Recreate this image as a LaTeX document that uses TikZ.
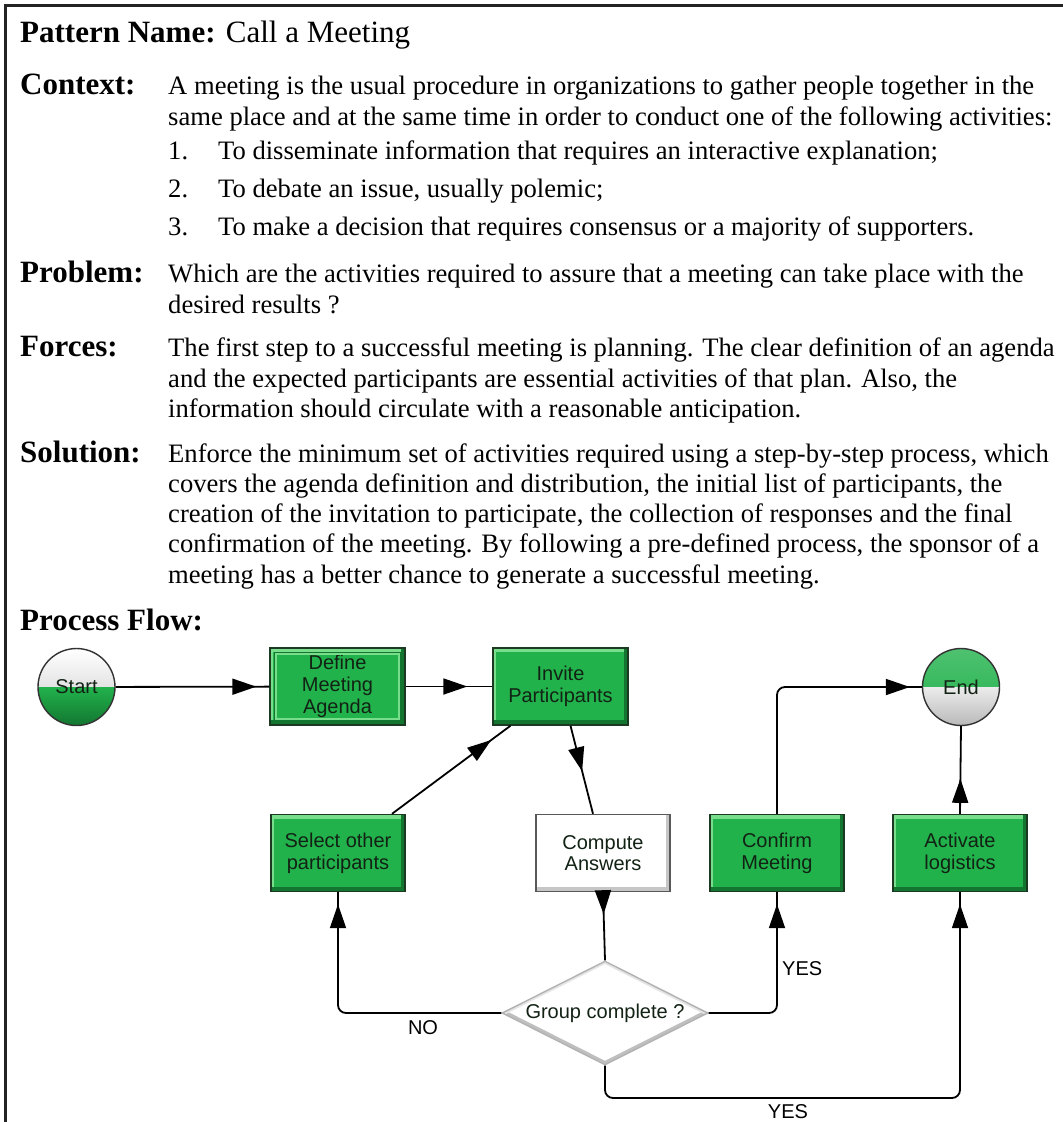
\documentclass[tikz,border=0pt]{standalone}
\usepackage{fontspec}
\setmainfont{Liberation Serif}
\newfontfamily\diagfont{Liberation Sans}
\usetikzlibrary{arrows.meta,shapes.geometric,decorations.markings,calc}

\definecolor{boxgreen}{RGB}{34,178,76}
\definecolor{boxlight}{RGB}{120,222,140}
\definecolor{boxdark}{RGB}{18,118,48}
\definecolor{boxedge}{RGB}{28,58,34}
\definecolor{labelink}{RGB}{18,34,20}
\definecolor{frameink}{RGB}{35,35,35}
\definecolor{capgray}{RGB}{200,200,200}

\begin{document}
\begin{tikzpicture}[x=1pt,y=-1pt,
  body/.style={anchor=base west, inner sep=0pt, font=\fontsize{26.6}{31}\selectfont},
  head/.style={anchor=base west, inner sep=0pt, font=\fontsize{31}{35}\selectfont\bfseries},
  flowbox/.style={rectangle, minimum width=134pt, minimum height=77pt, inner sep=0pt,
    align=center, font=\diagfont\fontsize{20}{21.7}\selectfont, text=labelink, line width=1.4pt},
  greenbox/.style={flowbox, fill=boxgreen, draw=boxedge,
    path picture={
      \fill[boxlight] (path picture bounding box.north west) rectangle ([yshift=-4pt]path picture bounding box.north east);
      \fill[boxlight] (path picture bounding box.north west) rectangle ([xshift=3pt]path picture bounding box.south west);
      \fill[boxdark] ([yshift=5pt]path picture bounding box.south west) rectangle (path picture bounding box.south east);
      \fill[boxdark] ([xshift=-4pt]path picture bounding box.north east) rectangle (path picture bounding box.south east);
    }},
  whitebox/.style={flowbox, fill=white, draw=gray!70!black,
    path picture={
      \fill[gray!45] ([yshift=5pt]path picture bounding box.south west) rectangle (path picture bounding box.south east);
      \fill[gray!45] ([xshift=-4pt]path picture bounding box.north east) rectangle (path picture bounding box.south east);
    }},
  terminal/.style={circle, inner sep=0pt, minimum size=77pt, draw=gray!40!black, line width=1.4pt,
    font=\diagfont\fontsize{20}{22}\selectfont, text=labelink},
  greenlow/.style={terminal,
    path picture={
      \shade[top color=white, bottom color=capgray] (path picture bounding box.north west) rectangle (path picture bounding box.east);
      \shade[top color=boxgreen, bottom color=boxdark] (path picture bounding box.west) rectangle (path picture bounding box.south east);
    }},
  greenhigh/.style={terminal,
    path picture={
      \shade[top color=boxgreen!80!white, bottom color=boxgreen] (path picture bounding box.north west) rectangle (path picture bounding box.east);
      \shade[top color=gray!15, bottom color=gray!55] (path picture bounding box.west) rectangle (path picture bounding box.south east);
    }},
  decision/.style={diamond, aspect=1.98, minimum width=206pt, minimum height=104pt, inner sep=0pt,
    fill=white, draw=gray!60, line width=1.4pt, font=\diagfont\fontsize{20}{22}\selectfont, text=labelink,
    path picture={
      \draw[gray!50, line width=7pt] (path picture bounding box.west) -- (path picture bounding box.south) -- (path picture bounding box.east);
      \draw[gray!20, line width=5pt] (path picture bounding box.west) -- (path picture bounding box.north) -- (path picture bounding box.east);
    }},
  flowlabel/.style={inner sep=0pt, font=\diagfont\fontsize{20}{22}\selectfont, text=black},
  conn/.style={draw=black, line width=1.8pt, rounded corners=8pt},
  tipat/.style={postaction={decorate, decoration={markings,
    mark=at position #1 with {\arrow{Triangle[length=24pt,width=16pt]}}}}}
]
\useasboundingbox (0,0) rectangle (1063,1122);

% outer frame (top and left rules)
\draw[frameink, line width=3pt] (1063,5.5) -- (5.5,5.5) -- (5.5,1122);

% ---- pattern description ----
\node[head] (pname) at (20,42) {Pattern Name: {\mdseries Call a Meeting}};

\node[head] (hcontext) at (20,94) {Context:};
\node[body] (c1) at (168,94) {A meeting is the usual procedure in organizations to gather people together in the};
\node[body] (c2) at (168,125) {same place and at the same time in order to conduct one of the following activities:};
\node[body] (n1) at (168,159) {1.};
\node[body] (l1) at (218,159) {To disseminate information that requires an interactive explanation;};
\node[body] (n2) at (168,197) {2.};
\node[body] (l2) at (218,197) {To debate an issue, usually polemic;};
\node[body] (n3) at (168,235) {3.};
\node[body] (l3) at (218,235) {To make a decision that requires consensus or a majority of supporters.};

\node[head] (hproblem) at (20,282) {Problem:};
\node[body] (p1) at (168,282) {Which are the activities required to assure that a meeting can take place with the};
\node[body] (p2) at (168,313) {desired results ?};

\node[head] (hforces) at (20,356) {Forces:};
\node[body] (f1) at (168,356) {The first step to a successful meeting is planning. The clear definition of an agenda};
\node[body] (f2) at (168,387) {and the expected participants are essential activities of that plan. Also, the};
\node[body] (f3) at (168,417) {information should circulate with a reasonable anticipation.};

\node[head] (hsolution) at (20,462) {Solution:};
\node[body] (s1) at (168,462) {Enforce the minimum set of activities required using a step-by-step process, which};
\node[body] (s2) at (168,492) {covers the agenda definition and distribution, the initial list of participants, the};
\node[body] (s3) at (168,522) {creation of the invitation to participate, the collection of responses and the final};
\node[body] (s4) at (168,552) {confirmation of the meeting. By following a pre-defined process, the sponsor of a};
\node[body] (s5) at (168,583) {meeting has a better chance to generate a successful meeting.};

\node[head] (hflow) at (20,630) {Process Flow:};

% ---- process flow ----
\node[greenlow] (start) at (76.5,687) {Start};
\node[greenbox, minimum width=135pt] (define) at (337.5,686.5) {Define\\Meeting\\Agenda};
\draw[boxlight, line width=2pt] ([shift={(7pt,-7pt)}]define.north west) rectangle ([shift={(-7pt,7pt)}]define.south east);
\draw[boxdark, line width=1pt] ([shift={(5.5pt,-5.5pt)}]define.north west) rectangle ([shift={(-5.5pt,5.5pt)}]define.south east);
\node[greenbox, minimum width=135pt] (invite) at (560.5,686.5) {Invite\\Participants};
\node[greenhigh] (end) at (961,687) {End};

\node[greenbox] (select) at (338,853) {Select other\\participants};
\node[whitebox] (compute) at (603,853) {Compute\\Answers};
\node[greenbox] (confirm) at (777,853) {Confirm\\Meeting};
\node[greenbox] (activate) at (960,853) {Activate\\logistics};

\node[decision] (group) at (605,1013) {Group complete ?};

\coordinate (bottomrun) at (605,1098);

% connectors
\draw[conn, tipat=-13pt] (start) -- (define);
\draw[conn, tipat=-25pt] (define) -- (invite);
\draw[conn, tipat=47pt] ([xshift=10pt]invite.south) -- ([xshift=-10pt]compute.north);
\draw[conn, tipat=-24pt] ([xshift=54pt]select.north) -- ([xshift=-50pt]invite.south);
\draw[conn, tipat=22pt] (compute.south) -- (group.north);
\draw[conn, tipat=-12pt] (group.west) -| (select.south);
\draw[conn, tipat=-12pt] (group.east) -| (confirm.south);
\draw[conn, tipat=-12pt] (group.south) -- (group.south |- bottomrun) -| (activate.south);
\draw[conn, tipat=35pt] (activate.north) -- (end.south);
\draw[conn, tipat=-12pt] (confirm.north) |- (end.west);

% branch labels
\node[flowlabel] (lno) at (423,1028) {NO};
\node[flowlabel, anchor=west] (lyes1) at (782,969) {YES};
\node[flowlabel] (lyes2) at (788,1112) {YES};
\end{tikzpicture}
\end{document}
